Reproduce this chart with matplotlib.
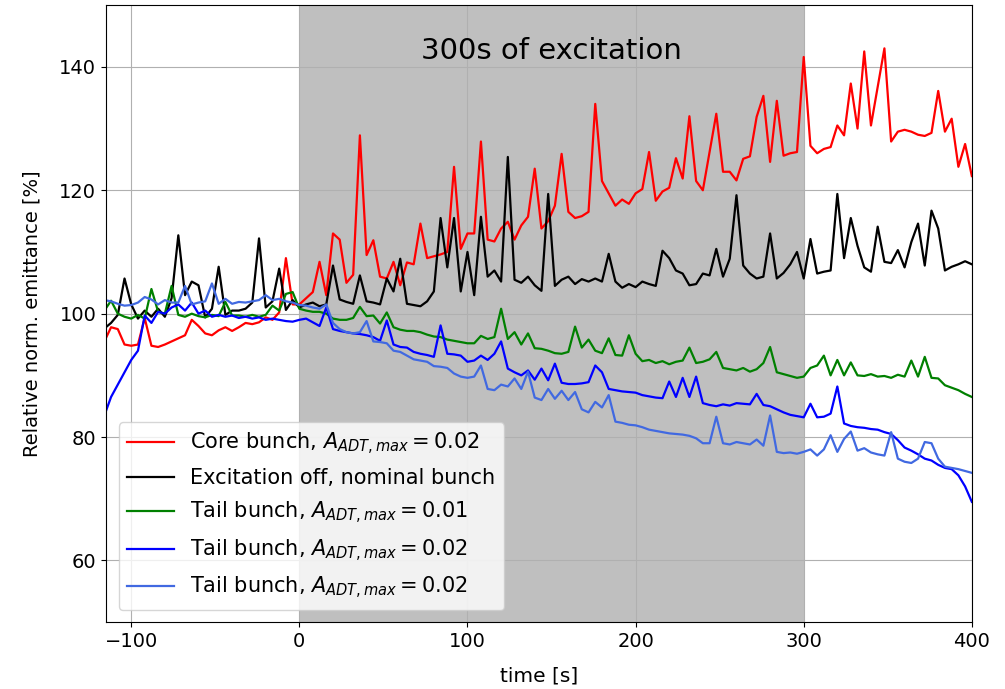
import numpy as np
import matplotlib
matplotlib.use("Agg")
import matplotlib.pyplot as plt

# time axis in seconds, one sample every 4 s
time = np.arange(-116, 401, 4)

core_002 = [
    95.5, 97.8, 97.5, 95.0, 94.8, 95.0, 99.3, 94.8, 94.6, 95.0,
    95.5, 96.0, 96.5, 99.0, 98.0, 96.8, 96.5, 97.3, 97.8, 97.2,
    97.8, 98.5, 98.3, 98.6, 99.4, 99.0, 100.2, 109.0, 101.5, 101.5,
    102.5, 103.5, 108.4, 103.0, 113.0, 112.0, 105.0, 106.3, 128.9, 109.5,
    111.9, 106.0, 105.7, 108.4, 104.6, 108.3, 108.0, 114.6, 109.0, 109.3,
    109.6, 110.0, 123.8, 110.5, 113.0, 113.0, 127.9, 112.0, 111.7, 113.8,
    114.9, 112.0, 114.3, 115.7, 123.5, 113.8, 115.0, 117.5, 125.9, 116.5,
    115.5, 115.8, 116.5, 134.0, 121.5, 119.5, 117.5, 118.5, 117.8, 119.5,
    120.2, 126.2, 118.3, 119.8, 120.4, 125.2, 121.9, 132.0, 121.5, 120.0,
    126.2, 132.4, 123.0, 123.0, 121.6, 125.1, 125.5, 131.9, 135.3, 124.6,
    134.5, 125.6, 126.0, 126.2, 141.6, 127.2, 126.0, 126.7, 127.0, 130.5,
    128.9, 137.3, 130.0, 142.5, 130.5, 136.8, 143.0, 127.9, 129.5, 129.8,
    129.5, 129.0, 128.8, 129.3, 136.1, 129.5, 131.6, 123.8, 127.5, 122.3,
]

nominal_off = [
    97.6, 98.5, 99.8, 105.7, 101.5, 99.2, 100.5, 99.5, 100.8, 99.5,
    102.5, 112.7, 103.0, 105.2, 104.6, 99.4, 100.8, 107.6, 99.8, 100.5,
    100.5, 100.8, 101.8, 112.2, 101.0, 102.0, 107.3, 100.6, 102.2, 101.0,
    101.5, 101.8, 101.2, 101.5, 107.8, 102.3, 101.9, 101.6, 106.2, 102.0,
    101.8, 101.5, 105.7, 103.6, 108.9, 101.6, 101.4, 101.2, 102.0, 103.6,
    115.5, 107.5, 115.5, 103.6, 110.0, 103.0, 115.7, 106.0, 107.0, 105.2,
    125.4, 105.5, 105.0, 106.0, 104.6, 103.7, 119.4, 104.5, 105.5, 106.0,
    104.8, 105.6, 105.2, 105.7, 105.2, 109.7, 105.2, 104.2, 104.8, 104.3,
    105.2, 104.8, 104.5, 110.2, 109.0, 107.0, 106.5, 104.6, 104.8, 106.5,
    106.2, 110.5, 106.0, 108.9, 119.2, 107.8, 106.5, 105.7, 106.0, 113.0,
    105.7, 106.6, 108.0, 110.0, 105.7, 112.1, 106.5, 106.8, 107.0, 119.4,
    109.0, 115.5, 111.0, 107.5, 106.8, 114.1, 108.4, 108.2, 110.3, 107.5,
    111.6, 114.6, 107.8, 116.7, 113.8, 107.0, 107.6, 108.0, 108.5, 108.0,
]

tail_001 = [
    100.5, 102.1, 100.0, 99.5, 99.2, 99.8, 99.2, 104.0, 100.3, 100.0,
    104.5, 99.8, 99.5, 100.0, 99.6, 99.4, 99.8, 99.6, 101.9, 99.7,
    99.7, 99.5, 99.8, 99.5, 99.8, 101.3, 100.5, 103.2, 103.5, 100.8,
    100.5, 100.3, 100.3, 100.0, 99.2, 99.0, 99.0, 99.3, 101.1, 99.6,
    99.7, 98.4, 100.2, 97.8, 97.4, 97.2, 97.2, 97.0, 96.6, 96.3,
    96.2, 95.8, 95.6, 95.4, 95.2, 95.2, 96.4, 95.9, 96.2, 100.8,
    95.9, 97.0, 95.0, 96.8, 94.4, 94.3, 94.0, 93.6, 93.5, 93.8,
    97.9, 94.5, 95.8, 94.0, 93.6, 96.0, 93.3, 93.2, 96.5, 93.5,
    92.3, 92.5, 92.0, 92.3, 91.8, 92.2, 92.4, 94.5, 92.0, 92.2,
    92.6, 93.8, 91.2, 91.0, 90.8, 91.2, 90.6, 91.0, 92.0, 94.6,
    90.5, 90.2, 89.9, 89.6, 89.8, 91.2, 91.6, 93.2, 90.0, 92.5,
    90.0, 92.1, 90.0, 89.9, 90.2, 89.8, 89.9, 89.6, 90.1, 89.8,
    92.4, 89.8, 93.0, 89.6, 89.5, 88.4, 88.0, 87.6, 87.0, 86.5,
]

tail_002_a = [
    83.5, 86.5, 88.5, 90.5, 92.5, 94.0, 99.7, 98.5, 100.3, 100.0,
    101.0, 101.5, 100.5, 101.8, 100.0, 100.5, 99.5, 99.8, 99.5, 99.7,
    99.3, 99.5, 99.2, 99.4, 99.0, 99.2, 99.0, 98.8, 98.7, 99.0,
    99.2, 98.6, 98.0, 101.0, 97.5, 97.2, 97.0, 96.8, 96.7, 96.5,
    96.2, 95.6, 98.9, 95.0, 94.6, 94.5, 93.8, 93.5, 93.3, 93.0,
    98.1, 93.5, 93.4, 93.2, 92.2, 92.4, 93.2, 92.5, 93.5, 95.5,
    91.1, 90.5, 90.0, 90.8, 89.3, 91.1, 89.2, 91.9, 88.8, 88.6,
    88.6, 88.7, 88.9, 91.6, 90.5, 87.8, 87.6, 87.4, 87.3, 87.2,
    86.8, 86.6, 86.4, 86.3, 89.0, 86.5, 89.6, 86.5, 89.8, 85.5,
    85.2, 85.0, 85.3, 85.1, 85.5, 85.4, 85.3, 87.0, 85.2, 85.0,
    84.5, 84.0, 83.6, 83.4, 83.2, 85.4, 83.2, 83.3, 83.8, 88.2,
    82.2, 81.8, 81.6, 81.5, 81.3, 81.2, 80.8, 80.5, 79.5, 78.3,
    77.8, 77.2, 76.5, 76.2, 75.5, 75.0, 74.8, 73.8, 72.0, 69.5,
]

tail_002_b = [
    102.2, 102.0, 101.6, 101.3, 101.4, 101.8, 102.7, 102.3, 101.5, 102.2,
    101.8, 101.8, 104.5, 101.5, 101.8, 102.0, 104.9, 101.6, 102.4, 101.6,
    101.9, 101.8, 102.0, 102.2, 103.0, 102.2, 102.4, 102.0, 101.8, 101.4,
    101.3, 101.0, 100.8, 101.5, 98.5, 97.5, 97.0, 96.8, 97.0, 98.8,
    95.5, 95.4, 95.2, 94.0, 93.8, 93.2, 92.6, 92.4, 92.2, 91.5,
    91.4, 91.2, 90.3, 89.8, 89.6, 89.8, 91.6, 87.8, 87.6, 88.5,
    88.2, 89.5, 87.8, 90.6, 86.4, 86.0, 87.8, 86.2, 87.5, 86.0,
    87.3, 84.5, 84.0, 85.7, 84.8, 86.8, 82.5, 82.3, 82.0, 81.9,
    81.6, 81.2, 81.0, 80.8, 80.6, 80.5, 80.4, 80.2, 79.8, 79.0,
    79.0, 83.3, 79.0, 78.8, 79.2, 79.0, 78.8, 79.6, 78.6, 83.5,
    77.6, 77.4, 77.5, 77.3, 77.6, 78.0, 77.0, 78.0, 80.3, 77.6,
    79.7, 80.9, 77.8, 78.2, 77.5, 77.2, 77.0, 80.8, 76.5, 76.0,
    75.8, 76.5, 79.2, 79.0, 76.5, 75.2, 75.0, 74.8, 74.5, 74.2,
]

series = [
    (core_002, "r", r"Core bunch, $A_{ADT,max} = 0.02$"),
    (nominal_off, "k", "Excitation off, nominal bunch"),
    (tail_001, "g", r"Tail bunch, $A_{ADT,max} = 0.01$"),
    (tail_002_a, "b", r"Tail bunch, $A_{ADT,max} = 0.02$"),
    (tail_002_b, "royalblue", r"Tail bunch, $A_{ADT,max} = 0.02$"),
]

fig = plt.figure(figsize=(10.05, 6.89), dpi=100)
ax = fig.add_axes([0.1055, 0.097, 0.8615, 0.8955])

ax.axvspan(0, 300, color="gray", alpha=0.5, lw=0)
for values, color, label in series:
    ax.plot(time, values, color=color, lw=1.6, label=label)

ax.text(150, 142.5, "300s of excitation", fontsize=21, ha="center", va="center")

ax.set_xlim(-115, 400)
ax.set_ylim(50, 150)
ax.set_xticks([-100, 0, 100, 200, 300, 400])
ax.set_yticks([60, 80, 100, 120, 140])
ax.tick_params(labelsize=14)
ax.grid(True)
ax.set_xlabel("time [s]", fontsize=14.5, labelpad=11)
ax.set_ylabel("Relative norm. emittance [%]", fontsize=14, labelpad=13)
ax.legend(loc="lower left", fontsize=15, handlelength=2.25,
          borderaxespad=0.6, labelspacing=0.55)

fig.savefig("out.png", dpi=100)
plt.close(fig)
